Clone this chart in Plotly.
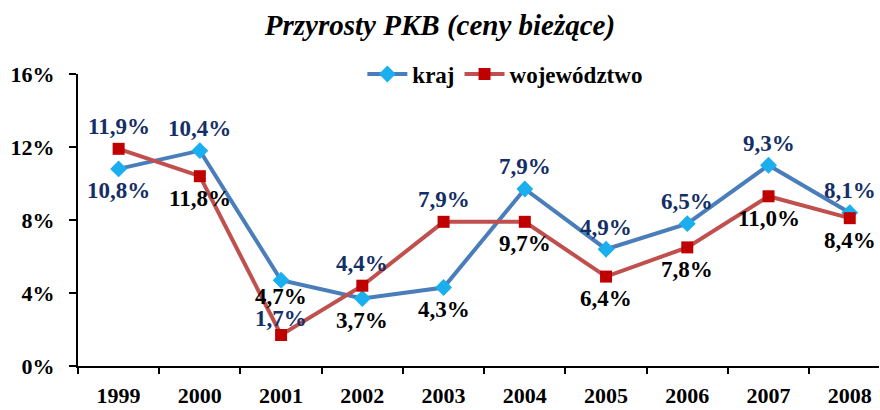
import plotly.graph_objects as go

years = ["1999", "2000", "2001", "2002", "2003", "2004", "2005", "2006", "2007", "2008"]
kraj = [10.8, 11.8, 4.7, 3.7, 4.3, 9.7, 6.4, 7.8, 11.0, 8.4]
wojewodztwo = [11.9, 10.4, 1.7, 4.4, 7.9, 7.9, 4.9, 6.5, 9.3, 8.1]

# data labels as printed on the original chart
kraj_labels = ["10,8%", "10,4%", "4,7%", "3,7%", "4,3%", "7,9%", "4,9%", "6,5%", "9,3%", "8,1%"]
kraj_label_side = ["below", "above", "below", "below", "below", "above", "above", "above", "above", "above"]
woj_labels = ["11,9%", "11,8%", "1,7%", "4,4%", "7,9%", "9,7%", "6,4%", "7,8%", "11,0%", "8,4%"]
woj_label_side = ["above", "below", "above", "above", "above", "below", "below", "below", "below", "below"]

y_ticks = [0, 4, 8, 12, 16]
y_tick_text = ["0%", "4%", "8%", "12%", "16%"]

FONT = "Liberation Serif"
NAVY = "#142E66"
BLACK = "#000000"

fig = go.Figure()
fig.add_trace(go.Scatter(
    x=years, y=kraj, name="kraj", mode="lines+markers",
    line=dict(color="#4A7EBB", width=4),
    marker=dict(symbol="diamond", size=13, color="#1AAFEF"),
))
fig.add_trace(go.Scatter(
    x=years, y=wojewodztwo, name="województwo", mode="lines+markers",
    line=dict(color="#C0504D", width=4),
    marker=dict(symbol="square", size=12, color="#C00000"),
))

annotations = []
for i, yr in enumerate(years):
    for vals, labs, sides, series in ((kraj, kraj_labels, kraj_label_side, "k"),
                                      (wojewodztwo, woj_labels, woj_label_side, "w")):
        side = sides[i]
        color = NAVY if side == "above" else BLACK
        if series == "k" and i == 0:
            color = NAVY
        shift = 22
        if i == 2:  # the two 2001 labels sit closer to their points
            shift = 16
        annotations.append(dict(
            x=i, y=vals[i], xref="x", yref="y", text=labs[i], showarrow=False,
            yshift=shift if side == "above" else -shift,
            font=dict(family=FONT, size=23, color=color, weight="bold"),
        ))

fig.update_layout(
    width=880, height=410,
    margin=dict(l=78, r=1, t=74, b=44),
    paper_bgcolor="white", plot_bgcolor="white",
    title=dict(text="<b><i>Przyrosty PKB (ceny bieżące)</i></b>", x=0.5, xanchor="center",
               y=0.94, yanchor="middle",
               font=dict(family=FONT, size=29, color="black")),
    showlegend=True,
    legend=dict(orientation="h", x=0.355, y=1.0, xanchor="left", yanchor="middle",
                font=dict(family=FONT, size=23, color="black", weight="bold"),
                bgcolor="rgba(0,0,0,0)", itemwidth=40, tracegroupgap=0),
    annotations=annotations,
)
fig.update_xaxes(
    type="category", range=[-0.5, 9.36], automargin=False,
    showline=True, linecolor="black", linewidth=2,
    ticks="outside", tickson="boundaries", ticklen=6, tickwidth=1.5, tickcolor="black",
    ticklabelstandoff=9,
    tickfont=dict(family=FONT, size=22, color="black", weight="bold"),
    showgrid=False, zeroline=False,
)
fig.update_yaxes(
    range=[0, 16], tickvals=y_ticks, ticktext=y_tick_text, automargin=False,
    showline=True, linecolor="black", linewidth=2,
    ticks="outside", ticklen=7, tickwidth=1.5, tickcolor="black",
    ticklabelstandoff=10,
    tickfont=dict(family=FONT, size=22, color="black", weight="bold"),
    showgrid=False, zeroline=False,
)

fig.write_html("out.html", config={"displayModeBar": False},
               post_script="document.body.style.margin='0';document.body.style.padding='0';")
